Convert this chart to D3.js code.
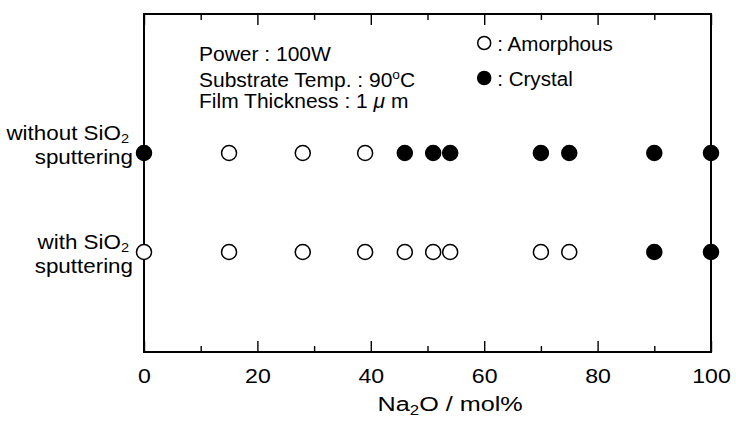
<!DOCTYPE html>
<html>
<head>
<meta charset="utf-8">
<script src="https://cdn.jsdelivr.net/npm/d3@7"></script>
<style>
  body { margin: 0; background: white; }
  svg { display: block; }
</style>
</head>
<body>
<svg id="chart" width="736" height="422"></svg>
<script>
// Na2O content (mol%) of each film
const compositions = [0, 15, 28, 39, 46, 51, 54, 70, 75, 90, 100];
// 1 = crystal, 0 = amorphous
const withoutSputter = [1, 0, 0, 0, 1, 1, 1, 1, 1, 1, 1];
const withSputter = [0, 0, 0, 0, 0, 0, 0, 0, 0, 1, 1];
const rowKeys = ['without', 'with'];
const xTicks = [0, 20, 40, 60, 80, 100];
const xMinorTicks = [10, 30, 50, 70, 90];

const style = {
  fontFamily: '"Liberation Sans", Arial, Helvetica, sans-serif',
  ink: '#000',
  frameWidth: 2,
  markerRadius: 7.5,
  markerStroke: 1.5,
  majorTick: 11,
  minorTick: 6,
  tickTextSize: '21px',
  labelSize: '20px',
  // the scanned figure's lettering is a bit wider than Arial
  stretch: 1.1,
};

const svg = d3.select('#chart');
const margin = { top: 14, left: 144, right: 25, bottom: 70 };
const width = 736 - margin.left - margin.right;
const height = 422 - margin.top - margin.bottom;

const main = svg.append('g')
  .attr('transform', `translate(${margin.left}, ${margin.top})`);

const xScale = d3.scaleLinear().domain([0, 100]).range([0, width]);
const yScale = d3.scalePoint().domain(rowKeys).range([139, 238]);

function txt(sel, size) {
  return sel.attr('fill', style.ink)
    .style('font-family', style.fontFamily)
    .style('font-size', size || style.labelSize);
}

// text placed at x,y and widened by sx
function label(parent, x, y, sx, size, anchor) {
  const g = parent.append('g').attr('transform', `translate(${x}, ${y}) scale(${sx}, 1)`);
  return txt(g.append('text'), size).attr('text-anchor', anchor || 'start');
}

// frame
main.append('rect')
  .attr('x', 0).attr('y', 0)
  .attr('width', width).attr('height', height)
  .attr('fill', 'none')
  .attr('stroke', style.ink)
  .attr('stroke-width', style.frameWidth);

// axes, ticks pointing inward
function styleAxis(sel) {
  sel.select('.domain').remove();
  sel.selectAll('.tick line').attr('stroke', style.ink).attr('stroke-width', 1.4);
}

const bottomMajor = main.append('g')
  .attr('transform', `translate(0, ${height})`)
  .call(d3.axisBottom(xScale).tickValues(xTicks).tickSize(-style.majorTick).tickPadding(style.majorTick + 5));
styleAxis(bottomMajor);
txt(bottomMajor.selectAll('.tick text'), style.tickTextSize)
  .attr('transform', `scale(${style.stretch}, 1)`);

const bottomMinor = main.append('g')
  .attr('transform', `translate(0, ${height})`)
  .call(d3.axisBottom(xScale).tickValues(xMinorTicks).tickSize(-style.minorTick).tickFormat(''));
styleAxis(bottomMinor);

const topMajor = main.append('g')
  .call(d3.axisTop(xScale).tickValues(xTicks).tickSize(-style.majorTick).tickFormat(''));
styleAxis(topMajor);
const topMinor = main.append('g')
  .call(d3.axisTop(xScale).tickValues(xMinorTicks).tickSize(-style.minorTick).tickFormat(''));
styleAxis(topMinor);

// x axis title
const xTitle = label(main, xScale(41.2), height + 59, 1.2, '21px');
xTitle.append('tspan').text('Na');
xTitle.append('tspan').attr('dy', 4).style('font-size', '14px').text('2');
xTitle.append('tspan').attr('dy', -4).text('O / mol%');

// row labels
const rowLabels = {
  without: { text: 'without SiO', dy1: -13, dy2: 11 },
  with: { text: 'with SiO', dy1: -3, dy2: 21 },
};
rowKeys.forEach(k => {
  const y = yScale(k);
  const lab = rowLabels[k];
  const t = label(main, -15, y + lab.dy1, 1.12, style.labelSize, 'end');
  t.append('tspan').text(lab.text);
  t.append('tspan').attr('dy', 3).style('font-size', '13px').text('2');
  label(main, -11, y + lab.dy2, 1.12, style.labelSize, 'end').text('sputtering');
});

// data points
const rows = [
  { key: 'without', states: withoutSputter },
  { key: 'with', states: withSputter },
];
rows.forEach(r => {
  main.append('g')
    .selectAll('circle')
    .data(compositions.map((c, i) => ({ c, s: r.states[i] })))
    .enter()
    .append('circle')
      .attr('cx', d => xScale(d.c))
      .attr('cy', yScale(r.key))
      .attr('r', style.markerRadius)
      .attr('fill', d => d.s ? style.ink : 'white')
      .attr('stroke', style.ink)
      .attr('stroke-width', style.markerStroke);
});

// conditions note
const noteX = 55;
label(main, noteX, 47, 1.05).text('Power : 100W');
const temp = label(main, noteX, 73, 1.05);
temp.append('tspan').text('Substrate Temp. : 90');
temp.append('tspan').attr('dy', -8).style('font-size', '13px').text('o');
temp.append('tspan').attr('dy', 8).text('C');
const film = label(main, noteX, 94, 1.05);
film.append('tspan').text('Film Thickness : 1 ');
film.append('tspan').style('font-style', 'italic').text('\u03BC');
film.append('tspan').text(' m');

// legend
const legend = [
  { label: ': Amorphous', filled: false },
  { label: ': Crystal', filled: true },
];
const legG = main.append('g').attr('transform', `translate(${xScale(60.0)}, 29)`);
legend.forEach((d, i) => {
  legG.append('circle')
    .attr('cx', 0).attr('cy', i * 35)
    .attr('r', 6.5)
    .attr('fill', d.filled ? style.ink : 'white')
    .attr('stroke', style.ink)
    .attr('stroke-width', style.markerStroke);
  label(legG, 13, i * 35 + 8, 1.03).text(d.label);
});
</script>
</body>
</html>
